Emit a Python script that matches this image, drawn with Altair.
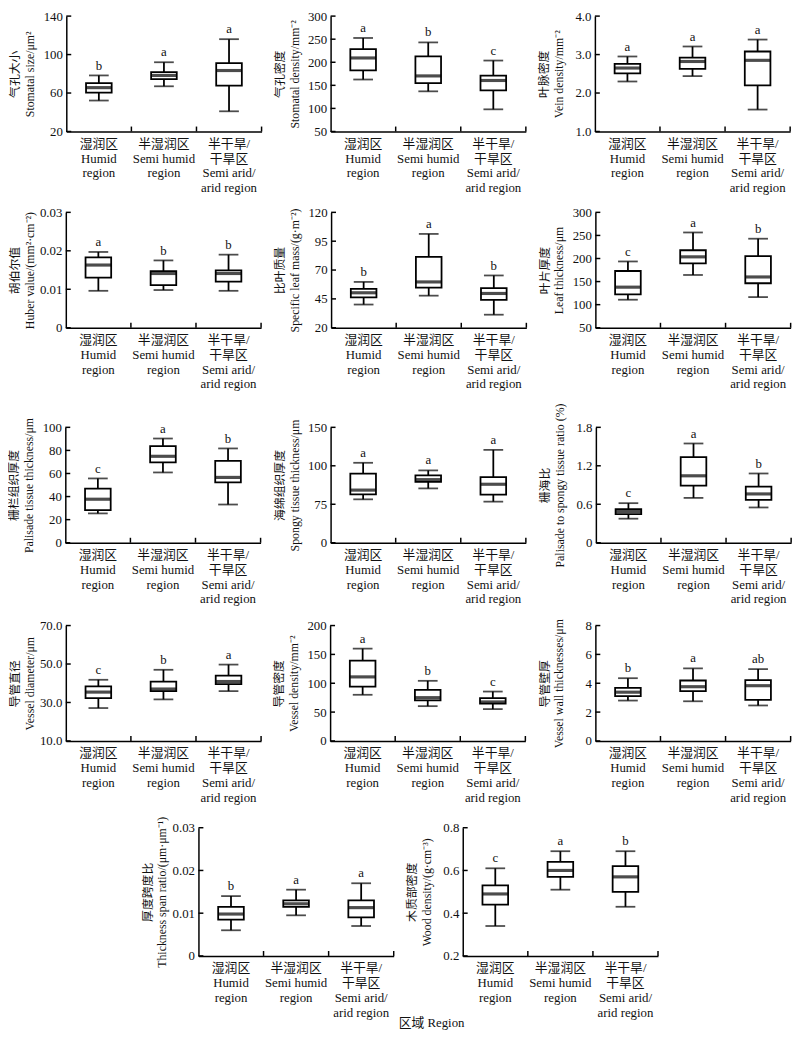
import altair as alt
import pandas as pd

CATEGORIES = ["湿润区|Humid|region", "半湿润区|Semi humid|region", "半干旱/|干旱区|Semi arid/|arid region"]

# per category: [whisker low, Q1, median, Q3, whisker high]
STOMATAL_SIZE = [[52.2, 60.5, 65.6, 70.4, 78.3], [67.0, 74.5, 78.3, 81.7, 92.0], [41.0, 67.7, 83.4, 91.0, 116.0]]
STOMATAL_SIZE_SIG = ["b", "a", "a"]
STOMATAL_DENSITY = [[162.6, 182.4, 209.3, 228.5, 252.6], [137.0, 155.0, 170.4, 212.9, 243.0], [98.0, 139.2, 160.5, 171.0, 203.7]]
STOMATAL_DENSITY_SIG = ["a", "b", "c"]
VEIN_DENSITY = [[2.30, 2.51, 2.65, 2.76, 2.95], [2.44, 2.63, 2.82, 2.92, 3.21], [1.57, 2.20, 2.85, 3.08, 3.39]]
VEIN_DENSITY_SIG = ["a", "a", "a"]
HUBER = [[0.0096, 0.0130, 0.0163, 0.0183, 0.0197], [0.0098, 0.0111, 0.0141, 0.0147, 0.0175], [0.0096, 0.0120, 0.0141, 0.0149, 0.0190]]
HUBER_SIG = ["a", "b", "b"]
SLM = [[40.1, 46.3, 50.3, 53.7, 59.7], [47.8, 54.8, 59.7, 81.5, 101.3], [31.3, 44.1, 49.7, 54.3, 65.3]]
SLM_SIG = ["b", "a", "b"]
LEAF_THICKNESS = [[110.7, 122.1, 137.9, 172.9, 193.6], [164.3, 189.3, 203.6, 217.9, 256.4], [116.4, 146.4, 160.0, 205.0, 242.9]]
LEAF_THICKNESS_SIG = ["c", "a", "b"]
PALISADE = [[25.4, 28.3, 37.7, 46.9, 55.7], [60.9, 69.7, 74.9, 83.7, 90.3], [33.1, 52.3, 56.6, 70.9, 81.7]]
PALISADE_SIG = ["c", "a", "b"]
SPONGY = [[78.2, 81.4, 84.2, 94.9, 103.9], [85.3, 89.5, 91.0, 93.8, 97.0], [76.7, 81.2, 88.0, 92.7, 120.7]]
SPONGY_SIG = ["a", "a", "a"]
PS_RATIO = [[0.375, 0.447, 0.488, 0.524, 0.617], [0.699, 0.890, 1.044, 1.337, 1.548], [0.550, 0.668, 0.761, 0.874, 1.080]]
PS_RATIO_SIG = ["c", "a", "b"]
VESSEL_DIAMETER = [[27.1, 32.3, 35.4, 38.4, 41.8], [31.6, 35.9, 37.0, 40.9, 47.0], [35.9, 39.6, 40.9, 44.0, 49.7]]
VESSEL_DIAMETER_SIG = ["c", "b", "a"]
VESSEL_DENSITY = [[80.0, 94.1, 111.0, 139.2, 160.0], [60.3, 70.4, 75.0, 88.5, 104.2], [55.2, 64.8, 67.6, 74.4, 85.6]]
VESSEL_DENSITY_SIG = ["a", "b", "c"]
VESSEL_WALL = [[2.80, 3.11, 3.38, 3.68, 4.35], [2.75, 3.45, 3.76, 4.19, 5.03], [2.46, 2.84, 3.83, 4.22, 4.98]]
VESSEL_WALL_SIG = ["b", "a", "ab"]
SPAN_RATIO = [[0.0060, 0.0085, 0.0098, 0.0115, 0.0140], [0.0095, 0.0115, 0.0122, 0.0130, 0.0155], [0.0070, 0.0090, 0.0113, 0.0130, 0.0170]]
SPAN_RATIO_SIG = ["b", "a", "a"]
WOOD_DENSITY = [[0.34, 0.44, 0.49, 0.53, 0.61], [0.51, 0.57, 0.60, 0.64, 0.69], [0.43, 0.50, 0.57, 0.62, 0.69]]
WOOD_DENSITY_SIG = ["c", "a", "b"]

W, H = 198, 117
H5 = 130
FONT = "Liberation Serif, Noto Sans CJK SC"
INK = "#111111"


def panel(title, stats, sig, ticks, fmt, domain, rng=None, h=H):
    df = pd.DataFrame({
        "cat": CATEGORIES,
        "lo": [s[0] for s in stats],
        "q1": [s[1] for s in stats],
        "med": [s[2] for s in stats],
        "q3": [s[3] for s in stats],
        "hi": [s[4] for s in stats],
        "sig": sig,
    })
    tdf = pd.DataFrame({"t": ticks})
    if rng is None:
        yscale = alt.Scale(domain=domain, nice=False, zero=False)
    else:
        yscale = alt.Scale(domain=domain, range=rng, nice=False, zero=False)
    yaxis = alt.Axis(title=title, values=ticks, format=fmt, ticks=False, grid=False,
                     labelPadding=4, minExtent=28, maxExtent=28, titlePadding=2)
    xscale = alt.Scale(type="band", domain=CATEGORIES, paddingInner=0, paddingOuter=0)
    xaxis = alt.Axis(title=None, labelExpr="split(datum.label, '|')", labelAngle=0, ticks=False,
                     grid=False, labelPadding=6, labelLineHeight=15, labelBaseline="top")

    def X(**kw):
        return alt.X("cat:N", scale=xscale, axis=xaxis, sort=CATEGORIES, **kw)

    def Y(f):
        return alt.Y(f"{f}:Q", scale=yscale, axis=yaxis)

    base = alt.Chart(df)
    lw = 1.8
    whisk_lo = base.mark_rule(color="black", strokeWidth=lw).encode(x=X(), y=Y("lo"), y2="q1")
    whisk_hi = base.mark_rule(color="black", strokeWidth=lw).encode(x=X(), y=Y("q3"), y2="hi")
    box = base.mark_bar(size=26, fill="white", stroke="black", strokeWidth=lw).encode(x=X(), y=Y("q1"), y2="q3")
    med = base.mark_tick(size=26, thickness=3.2, color="black").encode(x=X(), y=Y("med"))
    cap_lo = base.mark_tick(size=20, thickness=lw, color="black").encode(x=X(), y=Y("lo"))
    cap_hi = base.mark_tick(size=20, thickness=lw, color="black").encode(x=X(), y=Y("hi"))
    letters = base.mark_text(baseline="bottom", dy=-3, fontSize=13, font=FONT, color=INK).encode(
        x=X(), y=Y("hi"), text="sig:N")
    xticks = base.mark_rule(color="black", strokeWidth=1.5).encode(
        x=X(bandPosition=1), y=alt.value(h), y2=alt.value(h - 5))
    yticks = alt.Chart(tdf).mark_rule(color="black", strokeWidth=1.5).encode(
        y=alt.Y("t:Q", scale=yscale, axis=yaxis), x=alt.value(0), x2=alt.value(5))
    return alt.layer(whisk_lo, whisk_hi, box, med, cap_lo, cap_hi, letters, xticks, yticks).properties(
        width=W, height=h)


p1 = panel(["气孔大小", "Stomatal size/μm²"], STOMATAL_SIZE, STOMATAL_SIZE_SIG, [20, 60, 100, 140], "d", [20, 140])
p2 = panel(["气孔密度", "Stomatal density/mm⁻²"], STOMATAL_DENSITY, STOMATAL_DENSITY_SIG, [50, 100, 150, 200, 250, 300], "d", [50, 300])
p3 = panel(["叶脉密度", "Vein density/mm⁻²"], VEIN_DENSITY, VEIN_DENSITY_SIG, [1.0, 2.0, 3.0, 4.0], ".1f", [1.0, 4.0])
p4 = panel(["胡伯尔值", "Huber value/(mm²·cm⁻²)"], HUBER, HUBER_SIG, [0, 0.01, 0.02, 0.03], "~g", [0, 0.03])
p5 = panel(["比叶质量", "Specific leaf mass/(g·m⁻²)"], SLM, SLM_SIG, [20, 45, 70, 95, 120], "d", [20, 120])
p6 = panel(["叶片厚度", "Leaf thickness/μm"], LEAF_THICKNESS, LEAF_THICKNESS_SIG, [50, 100, 150, 200, 250, 300], "d", [50, 300])
p7 = panel(["栅栏组织厚度", "Palisade tissue thickness/μm"], PALISADE, PALISADE_SIG, [0, 20, 40, 60, 80, 100], "d", [0, 100])
p8 = panel(["海绵组织厚度", "Spongy tissue thickness/μm"], SPONGY, SPONGY_SIG, [0, 75, 100, 150], "d",
           [0, 75, 100, 150], rng=[H, H * 2 / 3, H / 3, 0])
p9 = panel(["栅海比", "Palisade to spongy tissue ratio (%)"], PS_RATIO, PS_RATIO_SIG, [0, 0.6, 1.2, 1.8], "~g", [0, 1.8])
p10 = panel(["导管直径", "Vessel diameter/μm"], VESSEL_DIAMETER, VESSEL_DIAMETER_SIG, [10, 30, 50, 70], ".1f", [10, 70])
p11 = panel(["导管密度", "Vessel density/mm⁻²"], VESSEL_DENSITY, VESSEL_DENSITY_SIG, [0, 50, 100, 150, 200], "d", [0, 200])
p12 = panel(["导管壁厚", "Vessel wall thicknesses/μm"], VESSEL_WALL, VESSEL_WALL_SIG, [0, 2, 4, 6, 8], "d", [0, 8])
p13 = panel(["厚度跨度比", "Thickness span ratio/(μm·μm⁻¹)"], SPAN_RATIO, SPAN_RATIO_SIG, [0, 0.01, 0.02, 0.03], "~g",
            [0, 0.03], h=H5)
p14 = panel(["木质部密度", "Wood density/(g·cm⁻³)"], WOOD_DENSITY, WOOD_DENSITY_SIG, [0.2, 0.4, 0.6, 0.8], ".1f",
            [0.2, 0.8], h=H5)

HS = 11
rows = [
    alt.hconcat(p1, p2, p3, spacing=HS).resolve_scale(y="independent"),
    alt.hconcat(p4, p5, p6, spacing=HS).resolve_scale(y="independent"),
    alt.hconcat(p7, p8, p9, spacing=HS).resolve_scale(y="independent"),
    alt.hconcat(p10, p11, p12, spacing=HS).resolve_scale(y="independent"),
    alt.hconcat(p13, p14, spacing=HS).resolve_scale(y="independent"),
]

chart = alt.vconcat(*rows, spacing=12, center=True).resolve_scale(y="independent").properties(
    title=alt.TitleParams("区域 Region", orient="bottom", anchor="middle", fontSize=13, font=FONT,
                          fontWeight="normal", color=INK, offset=-2, dx=32),
    padding={"left": 0, "top": -5, "right": 0, "bottom": 0},
).configure_view(stroke=None).configure_axis(
    labelFont=FONT, titleFont=FONT, labelFontSize=13, titleFontSize=12, titleFontWeight="normal",
    labelColor=INK, titleColor=INK, domainColor="black", domainWidth=1.5, titleLineHeight=15,
)

chart.save("out.html", embed_options={"renderer": "svg", "actions": False})
